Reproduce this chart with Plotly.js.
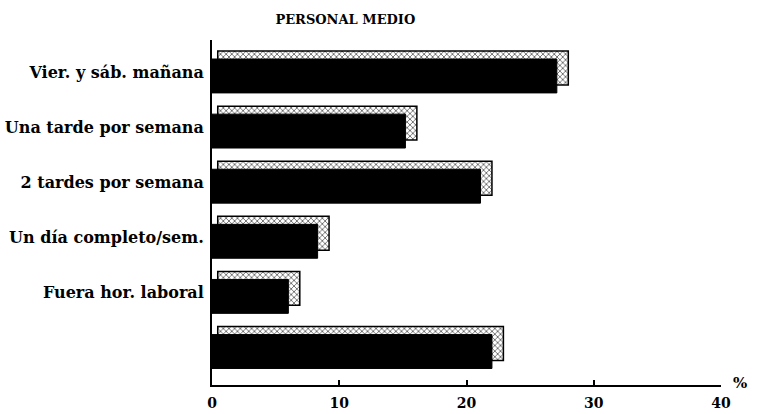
<!DOCTYPE html>
<html>
<head>
<meta charset="utf-8">
<script src="https://cdn.plot.ly/plotly-3.0.1.min.js"></script>
<style>html,body{margin:0;padding:0;background:#fff;}#chart{width:759px;height:414px;}</style>
</head>
<body>
<div id="chart"></div>
<script>
// Data
const title = "PERSONAL MEDIO";
const categories = ["Vier. y sáb. mañana", "Una tarde por semana", "2 tardes por semana", "Un día completo/sem.", "Fuera hor. laboral", ""];
const values = [27.1, 15.2, 21.1, 8.3, 6.0, 22.0];
const xTicks = [0, 10, 20, 30, 40];
const unitLabel = "%";

// 3D look settings (styling only)
const DEPTH_X = 0.9;   // horizontal depth in data units
const DEPTH_START = 0.45;
const FACE_W = 0.615;

const positions = categories.map((c, i) => i);

const depthTrace = {
  type: 'bar', orientation: 'h',
  y: positions,
  x: values.map(v => v + DEPTH_X - DEPTH_START),
  base: DEPTH_START,
  width: FACE_W,
  offset: -0.38,
  marker: {
    color: '#ffffff',
    pattern: {shape: 'x', size: 4, solidity: 0.25, fgcolor: '#000', bgcolor: '#fff', fillmode: 'replace'},
    line: {color: '#000', width: 1.5}
  },
  hoverinfo: 'skip', showlegend: false
};

const frontTrace = {
  type: 'bar', orientation: 'h',
  y: positions,
  x: values,
  width: FACE_W,
  offset: -0.235,
  marker: {color: '#000', line: {color: '#000', width: 1}},
  showlegend: false
};

const fontFam = '"DejaVu Serif", "Liberation Serif", serif';

const layout = {
  width: 759, height: 414,
  margin: {l: 212, r: 38, t: 40, b: 29},
  paper_bgcolor: '#fff', plot_bgcolor: '#fff',
  barmode: 'overlay',
  title: {
    text: title,
    font: {family: fontFam, size: 13, weight: 'bold', color: '#000'},
    x: 0.455, xref: 'container', xanchor: 'center',
    y: 0.952, yref: 'container', yanchor: 'middle'
  },
  xaxis: {
    range: [0, 40], tickvals: xTicks, ticktext: xTicks.map(String),
    showline: true, linecolor: '#000', linewidth: 2,
    ticks: 'inside', ticklen: 5, tickwidth: 2, tickcolor: '#000',
    showgrid: false, zeroline: false,
    ticklabelstandoff: 4,
    tickfont: {family: fontFam, size: 14, weight: 'bold', color: '#000'}
  },
  yaxis: {
    range: [5.68, -0.58], tickvals: positions, ticktext: categories,
    showline: true, linecolor: '#000', linewidth: 2,
    ticks: '', showgrid: false, zeroline: false,
    ticklabelstandoff: 3,
    tickfont: {family: fontFam, size: 16, weight: 'bold', color: '#000'}
  },
  annotations: [{
    text: unitLabel, xref: 'paper', yref: 'paper', x: 1.038, y: 0.005,
    xanchor: 'center', yanchor: 'middle', showarrow: false,
    font: {family: fontFam, size: 15, weight: 'bold', color: '#000'}
  }]
};

Plotly.newPlot('chart', [depthTrace, frontTrace], layout, {displayModeBar: false, staticPlot: true});
</script>
</body>
</html>
